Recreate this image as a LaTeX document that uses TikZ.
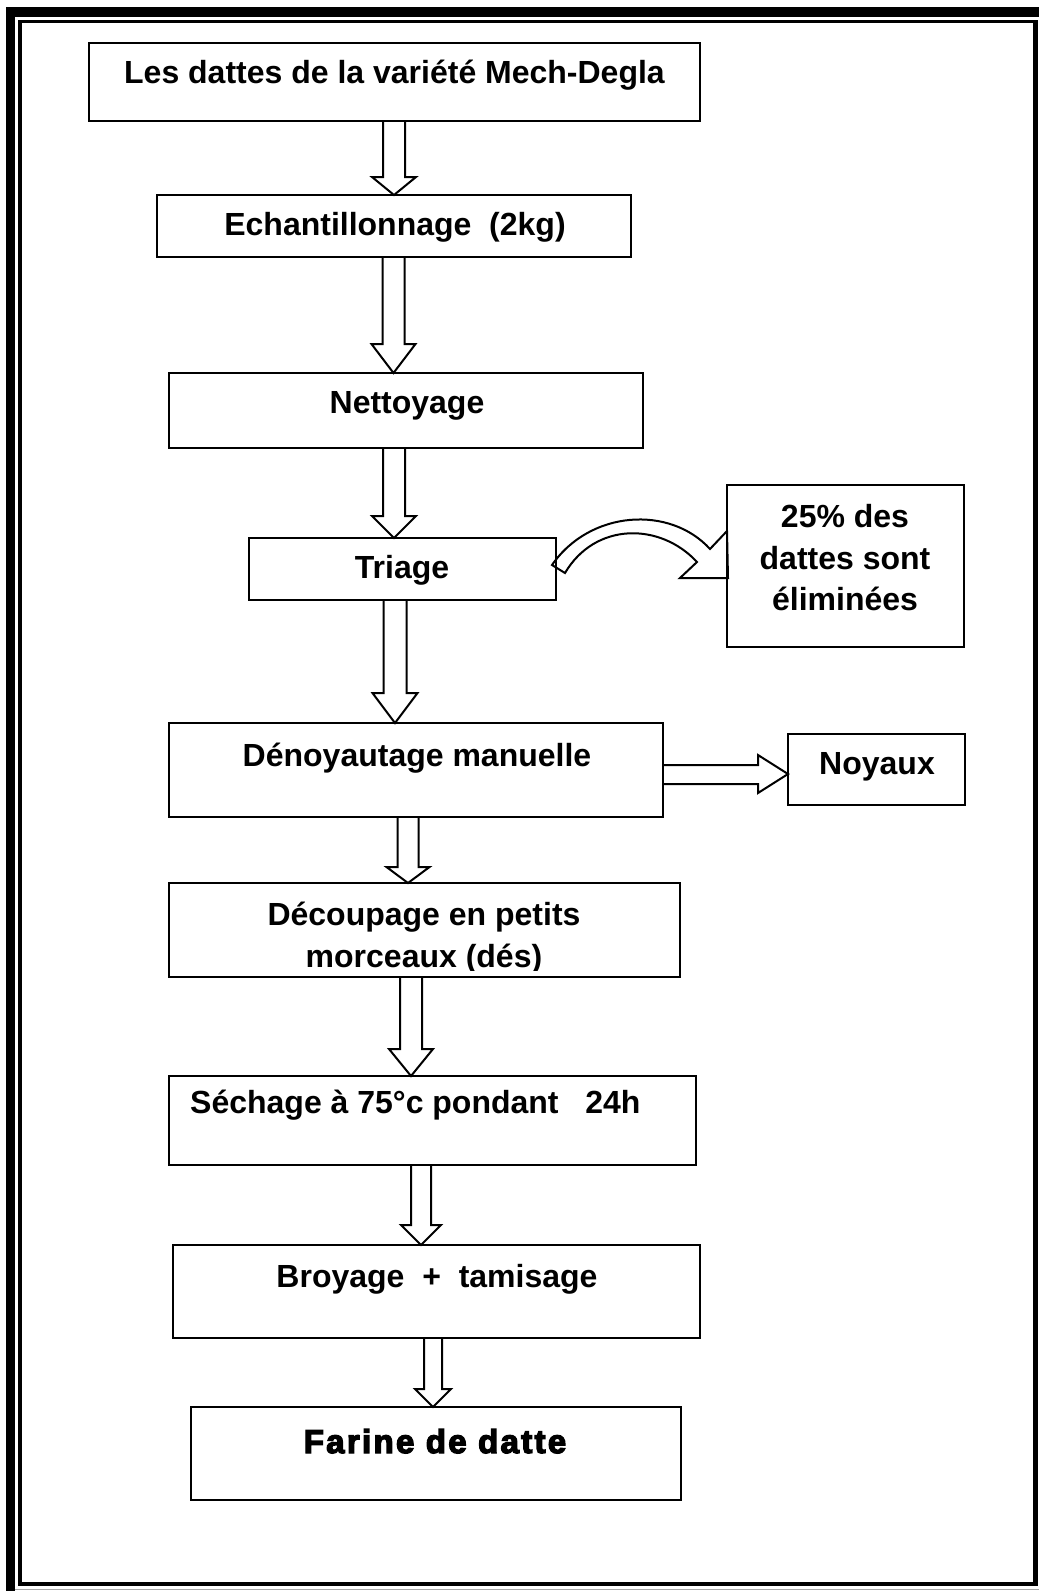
\documentclass[tikz,border=0pt]{standalone}
\usepackage{fontspec}
\setmainfont{Liberation Sans}
\newfontfamily\heavyfont{Liberation Sans Bold}[FakeBold=4,LetterSpace=7]
\usetikzlibrary{calc,fit}
\tikzset{
  box/.style={draw, line width=2pt, inner sep=0pt, outer sep=0pt},
  txt/.style={font=\fontsize{32}{41}\selectfont\bfseries, anchor=base, inner sep=0pt},
  blk/.style={draw, line width=2pt, line join=miter},
}
% vertical hollow block arrow: #1 upper node, #2 lower node, #3 x, #4 head length, #5 shaft half width, #6 head half width
\newcommand{\vblock}[6]{%
  \draw[blk] let \p1=(#1.south), \p2=(#2.north) in
    (#3pt-#5pt,\y1) -- (#3pt-#5pt,\y2+#4pt) -- (#3pt-#6pt,\y2+#4pt) -- (#3pt,\y2)
    -- (#3pt+#6pt,\y2+#4pt) -- (#3pt+#5pt,\y2+#4pt) -- (#3pt+#5pt,\y1);}
\begin{document}
\begin{tikzpicture}[x=1pt,y=-1pt]
\useasboundingbox (0,0) rectangle (1039,1591);
% page border
\fill[black] (6,7) rectangle (15,1591);
\fill[black] (6,7) rectangle (1039,17);
\fill[black] (18,20) rectangle (1036,23);
\fill[black] (18,20) rectangle (22,1586);
\fill[black] (1033,20) rectangle (1038,1586);
\fill[black] (18,1582) rectangle (1038,1586);
\draw[gray!70, line width=1pt] (15,1589) -- (1039,1589);

% boxes
\node[box, fit={(89,43) (700,121)}] (b1) {};
\node[box, fit={(157,195) (631,257)}] (b2) {};
\node[box, fit={(169,373) (643,448)}] (b3) {};
\node[box, fit={(249,538) (556,600)}] (b4) {};
\node[box, fit={(727,485) (964,647)}] (b5) {};
\node[box, fit={(169,723) (663,817)}] (b6) {};
\node[box, fit={(788,734) (965,805)}] (b7) {};
\node[box, fit={(169,883) (680,977)}] (b8) {};
\node[box, fit={(169,1076) (696,1165)}] (b9) {};
\node[box, fit={(173,1245) (700,1338)}] (b10) {};
\node[box, fit={(191,1407) (681,1500)}] (b11) {};

% texts
\node[txt] (t1) at (394.5,83) {Les dattes de la variété Mech-Degla};
\node[txt] (t2) at (395,235) {Echantillonnage\ \ (2kg)};
\node[txt] (t3) at (407,413) {Nettoyage};
\node[txt] (t4) at (402,578) {Triage};
\node[txt] (t5a) at (845,527) {25\% des};
\node[txt] (t5b) at (845,569) {dattes sont};
\node[txt] (t5c) at (845,610) {éliminées};
\node[txt] (t6) at (417,766) {Dénoyautage manuelle};
\node[txt] (t7) at (877,774) {Noyaux};
\node[txt] (t8a) at (424,925) {Découpage en petits};
\begin{scope}
  \clip (169,883) rectangle (680,970);
  \node[txt] (t8b) at (424,967) {morceaux (dés)};
\end{scope}
\node[txt, anchor=base west] (t9) at (190,1113) {Séchage à 75°c pondant\ \ \ 24h};
\node[txt] (t10) at (437,1287) {Broyage\ \ +\ \ tamisage};
\node[txt, font=\fontsize{33}{38}\heavyfont] (t11) at (435,1453) {Farine de datte};

% vertical block arrows
\vblock{b1}{b2}{394}{18}{11}{22}
\vblock{b2}{b3}{393.5}{29}{11}{22}
\vblock{b3}{b4}{394}{22}{11}{22}
\vblock{b4}{b6}{395}{30}{11.5}{22.5}
\vblock{b6}{b8}{408}{16}{10.5}{21.5}
\vblock{b8}{b9}{411}{27}{11}{22}
\vblock{b9}{b10}{421}{20}{10}{20}
\vblock{b10}{b11}{433}{18}{9}{18}

% horizontal block arrow to Noyaux
\draw[blk] let \p1=(b6.east), \p2=(b7.west) in
  (\x1,765) -- (\x2-30pt,765) -- (\x2-30pt,755) -- (\x2,774) -- (\x2-30pt,793)
  -- (\x2-30pt,784) -- (\x1,784);

% curved block arrow from Triage to the eliminated dates
\draw[blk] (552,565) .. controls (590,510) and (670,505) .. (710,549)
  -- (727,531) -- (728,578) -- (680,578) -- (697,562)
  .. controls (660,522) and (595,522) .. (565,573) -- cycle;
\end{tikzpicture}
\end{document}
